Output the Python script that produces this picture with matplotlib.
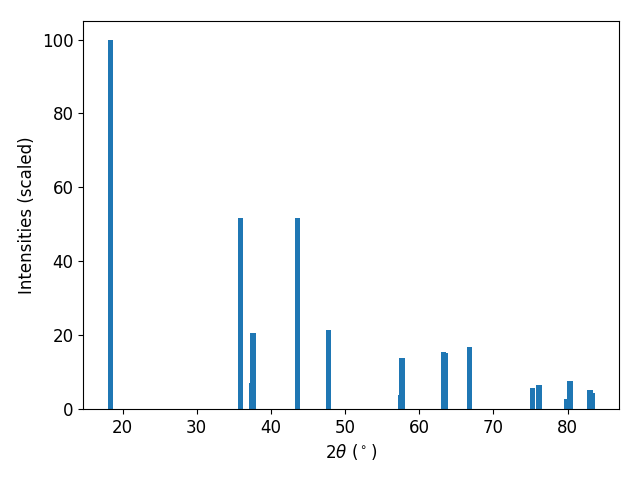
import matplotlib
matplotlib.use("Agg")
import matplotlib.pyplot as plt

# peak positions (2theta) and scaled intensities
two_theta = [18.38, 35.91, 37.39, 37.53, 43.59, 47.77, 57.48, 57.62,
             63.28, 63.55, 66.78, 75.28, 76.09, 76.22, 79.87, 80.27,
             82.97, 83.24]
intensity = [100.0, 51.8, 7.0, 20.6, 51.8, 21.4, 3.8, 13.8,
             15.4, 15.2, 16.8, 5.7, 6.5, 3.3, 2.7, 7.6,
             5.1, 4.3]

plt.rcParams["font.size"] = 12

fig, ax = plt.subplots(figsize=(6.4, 4.8), dpi=100)
ax.bar(two_theta, intensity, width=0.8)
ax.set_xlabel(r"$2\theta$ ($^\circ$)")
ax.set_ylabel("Intensities (scaled)")
fig.subplots_adjust(left=0.13, right=0.967, top=0.956, bottom=0.148)
fig.savefig("out.png")
